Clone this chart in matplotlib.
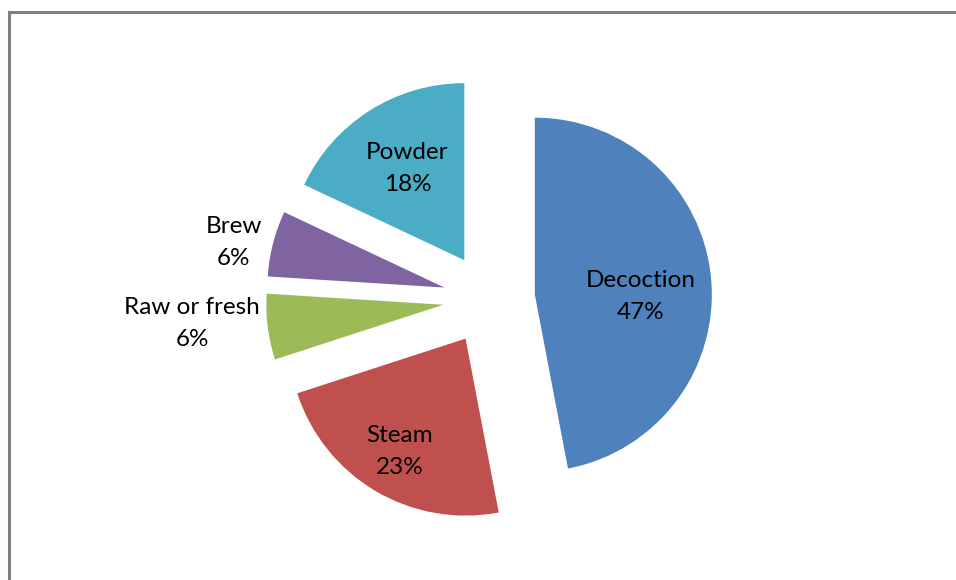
import numpy as np
import matplotlib

matplotlib.use("Agg")
import matplotlib.pyplot as plt
from matplotlib.lines import Line2D

plt.rcParams["font.family"] = ["Lato", "DejaVu Sans"]

# 資料
labels = ["Decoction", "Steam", "Raw or fresh", "Brew", "Powder"]
shares = [47, 23, 6, 6, 18]
colors = ["#4F81BD", "#C0504D", "#9BBB59", "#8064A2", "#4BACC6"]

# 版面（像素座標）
W, H = 956, 580
CX, CY, R = 489, H - 299, 177
EXPLODE = 0.26 * R  # pie() 的 explode 是資料單位，不隨半徑縮放
# 標籤距各扇形頂點的距離（以半徑為單位）與垂直微調（像素，向上為正）
label_dist = [0.60, 0.73, 1.43, 1.23, 0.60]
label_nudge = [-12, -2, 13, -9, 2]

fig = plt.figure(figsize=(W / 100, H / 100), dpi=100)
ax = fig.add_axes([0, 0, 1, 1])

wedges, _ = ax.pie(
    shares, colors=colors, startangle=90, counterclock=False,
    explode=[EXPLODE] * len(shares), radius=R, center=(CX, CY),
    wedgeprops=dict(linewidth=0),
)

# pie() 會改掉範圍，之後再設
ax.set_xlim(0, W)
ax.set_ylim(0, H)
ax.set_aspect("equal")
ax.axis("off")

for w, lab, pct, d, dy in zip(wedges, labels, shares, label_dist, label_nudge):
    mid = np.deg2rad((w.theta1 + w.theta2) / 2)
    cx, cy = w.center
    x = cx + d * R * np.cos(mid)
    y = cy + d * R * np.sin(mid) + dy
    ax.text(x, y, f"{lab}\n{pct}%", ha="center", va="center",
            fontsize=17.5, color="black", linespacing=1.65)

# 外框（灰色）
ax.add_line(Line2D([9, 9], [0, H - 12], color="#7F7F7F", lw=2.2))
ax.add_line(Line2D([9, W], [H - 12, H - 12], color="#7F7F7F", lw=2.2))

fig.savefig("out.png", dpi=100)
